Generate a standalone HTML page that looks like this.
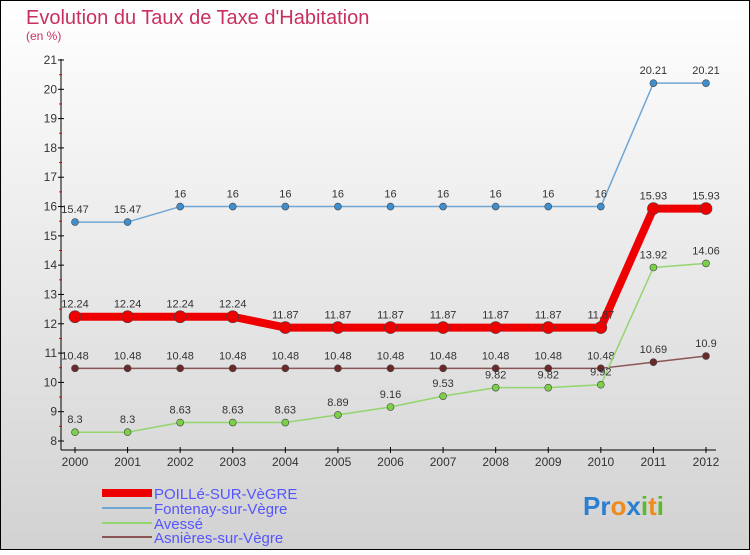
<!DOCTYPE html>
<html><head><meta charset="utf-8"><style>
body{margin:0}
#c{width:750px;height:550px;position:relative;font-family:"Liberation Sans",sans-serif}
</style></head><body>
<div id="c">
<svg id="s" width="750" height="550" xmlns="http://www.w3.org/2000/svg">
<defs><linearGradient id="bg" x1="0" y1="0" x2="0" y2="1"><stop offset="0" stop-color="#ffffff"/><stop offset="1" stop-color="#d2d2d2"/></linearGradient></defs>
<rect x="0.5" y="0.5" width="749" height="549" fill="url(#bg)" stroke="#000"/>
<text x="26" y="24" font-size="20" fill="#c8305f">Evolution du Taux de Taxe d'Habitation</text>
<text x="26" y="40" font-size="12" fill="#c8305f">(en %)</text>
<g id="axes"></g><g id="series"></g>
<g>
<rect x="102" y="489" width="50" height="8" fill="#e00"/>
<text x="154" y="499" font-size="15" fill="#5555ff">POILLé-SUR-VèGRE</text>
<line x1="102" y1="508" x2="152" y2="508" stroke="#6fa6d3" stroke-width="2"/>
<text x="154" y="514" font-size="15" fill="#5555ff">Fontenay-sur-Vègre</text>
<line x1="102" y1="523" x2="152" y2="523" stroke="#92d56d" stroke-width="2"/>
<text x="154" y="529" font-size="15" fill="#5555ff">Avessé</text>
<line x1="102" y1="537" x2="152" y2="537" stroke="#8b5555" stroke-width="2"/>
<text x="154" y="543" font-size="15" fill="#5555ff">Asnières-sur-Vègre</text>
</g>
<text x="583" y="515" font-size="26" font-weight="bold"><tspan fill="#2a7fd0">Pr</tspan><tspan fill="#f08a1c">o</tspan><tspan fill="#2a7fd0">x</tspan><tspan fill="#5cb82e">i</tspan><tspan fill="#f08a1c">t</tspan><tspan fill="#5cb82e">i</tspan></text>
</svg></div>
<script>
const years=[2000,2001,2002,2003,2004,2005,2006,2007,2008,2009,2010,2011,2012];
const yTicks=[8,9,10,11,12,13,14,15,16,17,18,19,20,21];
const poille=[12.24,12.24,12.24,12.24,11.87,11.87,11.87,11.87,11.87,11.87,11.87,15.93,15.93];
const fontenay=[15.47,15.47,16,16,16,16,16,16,16,16,16,20.21,20.21];
const avesse=[8.3,8.3,8.63,8.63,8.63,8.89,9.16,9.53,9.82,9.82,9.92,13.92,14.06];
const asnieres=[10.48,10.48,10.48,10.48,10.48,10.48,10.48,10.48,10.48,10.48,10.48,10.69,10.9];
const NS="http://www.w3.org/2000/svg";
const x=i=>75+i*(706-75)/(years.length-1);
const y=v=>441-(v-8)*(441-60)/13;
function mk(t,a,p){const e=document.createElementNS(NS,t);for(const k in a)e.setAttribute(k,a[k]);p.appendChild(e);return e;}
const ax=document.getElementById('axes');
let l=mk('line',{x1:61,y1:59,x2:61,y2:450,stroke:'#000'},ax);


l=mk('line',{x1:61,y1:450,x2:716,y2:450,stroke:'#000'},ax);


yTicks.forEach(v=>{mk('line',{x1:58,x2:64,y1:y(v),y2:y(v),stroke:'#000'},ax);
if(v<21)mk('line',{x1:59,x2:62,y1:y(v+0.5),y2:y(v+0.5),stroke:'#e00'},ax);
const t=mk('text',{x:57,y:y(v)+4,'font-size':12,fill:'#333','text-anchor':'end'},ax);t.textContent=v;

});
years.forEach((yr,i)=>{mk('line',{x1:x(i),x2:x(i),y1:447,y2:453,stroke:'#000'},ax);
const t=mk('text',{x:x(i),y:466,'font-size':12,fill:'#333','text-anchor':'middle'},ax);t.textContent=yr;

});
const sg=document.getElementById('series');
function draw(d,col,w,dot,name,r){
const p=mk('polyline',{points:d.map((v,i)=>x(i)+','+y(v)).join(' '),fill:'none',stroke:col,'stroke-width':w,'stroke-linejoin':'round'},sg);


d.forEach((v,i)=>{const c=mk('circle',{cx:x(i),cy:y(v),r:r,fill:dot,stroke:'#444','stroke-width':0.6},sg);


const t=mk('text',{x:x(i),y:y(v)-9,'font-size':11,fill:'#333','text-anchor':'middle'},sg);t.textContent=v;

});}
draw(fontenay,'#6fa6d3',1.5,'#3f8fcf','fontenay',3.5);
draw(asnieres,'#8b5555',1.5,'#6b2a2a','asnieres',3.5);
draw(avesse,'#92d56d',1.5,'#7bd048','avesse',3.5);
draw(poille,'#e00',8,'#e00','poille',6);
</script>
</body></html>
